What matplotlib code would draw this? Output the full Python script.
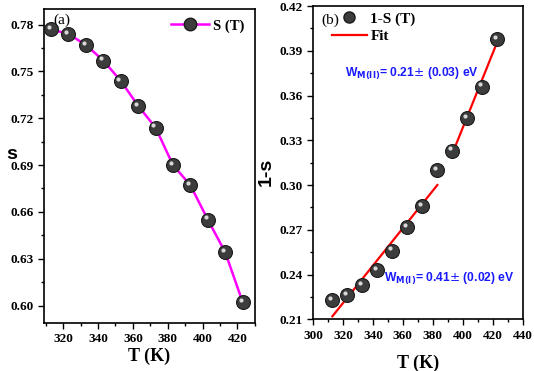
import numpy as np
import matplotlib
matplotlib.use('Agg')
import matplotlib.pyplot as plt
from matplotlib.ticker import MultipleLocator, AutoMinorLocator, FormatStrFormatter
from matplotlib.transforms import ScaledTranslation
from matplotlib.lines import Line2D

# data
T = [313, 323, 333, 343, 353, 363, 373, 383, 393, 403, 413, 423]
s = [0.777, 0.774, 0.767, 0.757, 0.744, 0.728, 0.714, 0.690, 0.677, 0.655, 0.634, 0.602]
one_minus_s = [0.223, 0.226, 0.233, 0.243, 0.256, 0.272, 0.286, 0.310, 0.323, 0.345, 0.366, 0.398]
fit1_T = [313, 383]
fit1_y = [0.212, 0.300]
fit2_T = [393, 423]
fit2_y = [0.321, 0.396]

serif = 'Liberation Serif'
sans = 'Liberation Sans'


def balls(ax, x, y):
    # dark sphere with a small highlight
    ax.plot(x, y, 'o', ms=10, mfc='#3c3c3c', mec='#1a1a1a', mew=0.8, zorder=4)
    off = ScaledTranslation(-1.6 / 72, 1.6 / 72, ax.figure.dpi_scale_trans)
    ax.plot(x, y, 'o', ms=3, mfc='#d8d8d8', mec='none', zorder=5,
            transform=ax.transData + off)


def style(ax):
    for sp in ax.spines.values():
        sp.set_linewidth(1.2)
    ax.tick_params(which='both', direction='out', width=1.0)
    ax.tick_params(which='major', length=4, labelsize=9.5)
    ax.tick_params(which='minor', length=2.5)
    ax.xaxis.set_major_locator(MultipleLocator(20))
    ax.xaxis.set_minor_locator(AutoMinorLocator(2))
    ax.yaxis.set_major_locator(MultipleLocator(0.03))
    ax.yaxis.set_minor_locator(AutoMinorLocator(2))
    ax.yaxis.set_major_formatter(FormatStrFormatter('%.2f'))
    for lab in ax.get_xticklabels() + ax.get_yticklabels():
        lab.set_fontfamily(serif)
        lab.set_fontweight('bold')


fig = plt.figure(figsize=(5.34, 3.71), dpi=100)

# panel (a)
ax1 = fig.add_axes([0.0824, 0.1302, 0.395, 0.8455])
ax1.plot(T, s, '-', color='#ff00ff', lw=1.8, zorder=3)
balls(ax1, T, s)
ax1.set_xlim(309, 430)
ax1.set_ylim(0.589, 0.790)
style(ax1)
ax1.set_xlabel('T (K)', family=serif, weight='bold', fontsize=13, labelpad=2)
ax1.set_ylabel('s', family=sans, weight='bold', fontsize=14, rotation=0, va='center', ha='center')
ax1.yaxis.set_label_coords(-0.155, 0.535)
ax1.text(0.045, 0.985, '(a)', transform=ax1.transAxes, family=serif, fontsize=11, va='top')
h1 = Line2D([], [], color='#ff00ff', lw=1.8, marker='o', ms=9, mfc='#3c3c3c', mec='#1a1a1a')
ax1.legend([h1], ['S (T)'], loc='upper right', frameon=False,
           prop={'family': serif, 'weight': 'bold', 'size': 10.5},
           handlelength=2.6, borderaxespad=0.3, handletextpad=0.3)

# panel (b)
ax2 = fig.add_axes([0.586, 0.1394, 0.393, 0.8444])
ax2.plot(fit1_T, fit1_y, '-', color='#ff0000', lw=1.6, zorder=3)
ax2.plot(fit2_T, fit2_y, '-', color='#ff0000', lw=1.6, zorder=3)
balls(ax2, T, one_minus_s)
ax2.set_xlim(300, 440)
ax2.set_ylim(0.21, 0.42)
style(ax2)
ax2.set_xlabel('T (K)', family=serif, weight='bold', fontsize=13, labelpad=9)
ax2.set_ylabel('1-s', family=sans, weight='bold', fontsize=14)
ax2.yaxis.set_label_coords(-0.18, 0.47)
ax2.text(0.04, 0.975, '(b)', transform=ax2.transAxes, family=serif, fontsize=11, va='top')
hb = Line2D([], [], ls='none', marker='o', ms=8, mfc='#3c3c3c', mec='#1a1a1a')
hf = Line2D([], [], color='#ff0000', lw=1.6)
ax2.legend([hb, hf], ['1-S (T)', 'Fit'], loc='upper left', frameon=False,
           bbox_to_anchor=(0.045, 1.01),
           prop={'family': serif, 'weight': 'bold', 'size': 11},
           handlelength=2.3, borderaxespad=0.2, handletextpad=0.25, labelspacing=0.25)
ax2.text(0.155, 0.775, r'W$_{\mathbf{M(II)}}$= 0.21$\pm$ (0.03) eV', transform=ax2.transAxes,
         family=sans, weight='bold', color='#1a1aff', fontsize=8.7)
ax2.text(0.34, 0.12, r'W$_{\mathbf{M(I)}}$= 0.41$\pm$ (0.02) eV', transform=ax2.transAxes,
         family=sans, weight='bold', color='#1a1aff', fontsize=8.7)

fig.savefig('out.png', dpi=100)
